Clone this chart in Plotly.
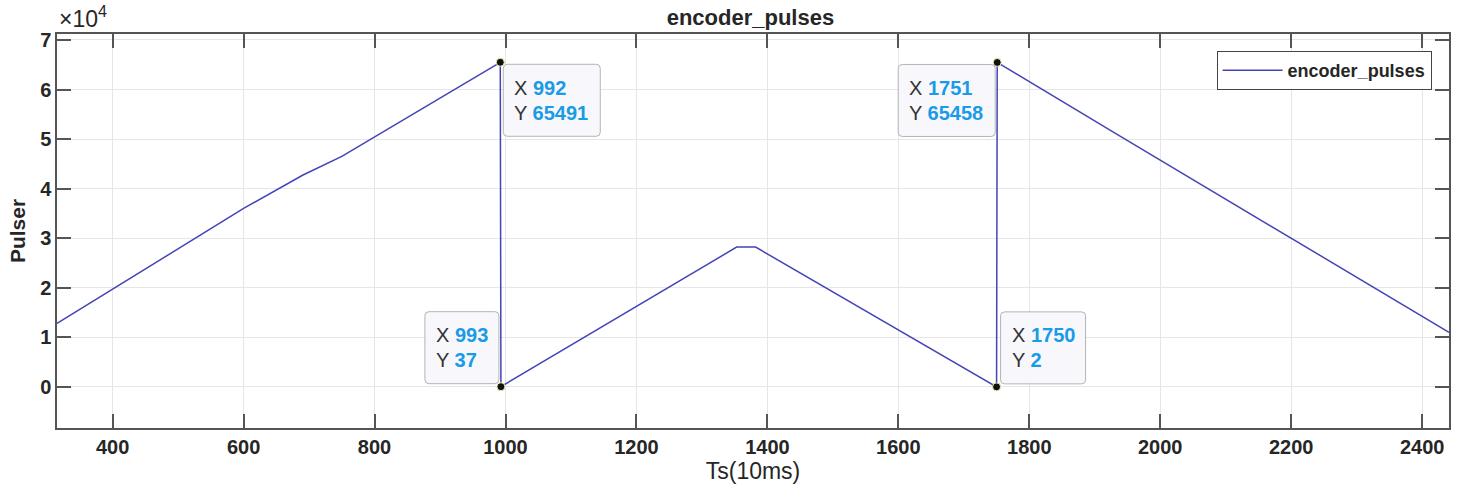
import plotly.graph_objects as go

# ---- data ----
ts = [315, 600, 690, 750, 992, 993, 1353, 1382, 1750, 1751, 1936, 2200, 2441]
pulses = [12800, 36000, 42700, 46500, 65491, 37, 28200, 28200, 2, 65458, 50800, 30000, 11000]

tip_x = [992, 993, 1750, 1751]
tip_y = [65491, 37, 2, 65458]

x_range = [315, 2441]
y_range = [-8300, 71200]
x_ticks = [400, 600, 800, 1000, 1200, 1400, 1600, 1800, 2000, 2200, 2400]
y_ticks = [0, 10000, 20000, 30000, 40000, 50000, 60000, 70000]
y_tick_text = ["0", "1", "2", "3", "4", "5", "6", "7"]

FONT = "Liberation Sans, Arial, Helvetica, sans-serif"
TXT = "#262626"
AX = "#555555"
LINE = "#4444b8"
BLUE = "#1a9be6"

fig = go.Figure()
fig.add_trace(go.Scatter(x=ts, y=pulses, mode="lines", name="<b>encoder_pulses</b>",
                         line=dict(color=LINE, width=1.5)))
fig.add_trace(go.Scatter(x=tip_x, y=tip_y, mode="markers", showlegend=False,
                         marker=dict(color="#111111", size=8,
                                     line=dict(color="#f0f0b0", width=1))))

# datatip boxes: (pixel offsets relative to the point) x0, x1, y0, y1 (y up positive)
box_geo = [(3, 100, -2, -74), (-76, -2, 3, 75), (4, 89, 3, 75), (-99, -2, -2, -74)]


def rrect(x0, x1, y0, y1, r=4):
    lx, rx = min(x0, x1), max(x0, x1)
    by, ty = min(y0, y1), max(y0, y1)
    return (f"M {lx + r},{by} L {rx - r},{by} Q {rx},{by} {rx},{by + r} "
            f"L {rx},{ty - r} Q {rx},{ty} {rx - r},{ty} L {lx + r},{ty} "
            f"Q {lx},{ty} {lx},{ty - r} L {lx},{by + r} Q {lx},{by} {lx + r},{by} Z")


for xv, yv, (x0, x1, y0, y1) in zip(tip_x, tip_y, box_geo):
    fig.add_shape(type="path", xsizemode="pixel", ysizemode="pixel",
                  xanchor=xv, yanchor=yv, xref="x", yref="y",
                  path=rrect(x0, x1, y0, y1),
                  fillcolor="rgba(248,248,252,0.96)",
                  line=dict(color="#b4b4b4", width=1), layer="above")
    cy = (y0 + y1) / 2
    lx = min(x0, x1)
    for label, val, dy in (("X", xv, 12.5), ("Y", yv, -12.5)):
        fig.add_annotation(x=xv, y=yv, xref="x", yref="y", showarrow=False,
                           xanchor="left", yanchor="middle",
                           xshift=lx + 9, yshift=cy + dy,
                           text=f"{label} <b><span style='color:{BLUE}'>{val}</span></b>",
                           font=dict(family=FONT, size=20, color="#333333"))

# exponent label
fig.add_annotation(x=0, y=1, xref="paper", yref="paper", xanchor="left", yanchor="bottom",
                   xshift=0, yshift=0, showarrow=False,
                   text="×10<sup>4</sup>", font=dict(family=FONT, size=23, color=TXT))

fig.update_layout(
    width=1460, height=489,
    margin=dict(l=57, r=9, t=34, b=61),
    paper_bgcolor="white", plot_bgcolor="white",
    font=dict(family=FONT, color=TXT),
    title=dict(text="<b>encoder_pulses</b>", x=0.514, xanchor="center", y=0.965, yanchor="middle",
               font=dict(family=FONT, size=22, color=TXT)),
    showlegend=True,
    legend=dict(x=0.9875, xanchor="right", y=0.957, yanchor="top",
                bgcolor="white", bordercolor="#444444", borderwidth=1, itemwidth=60,
                font=dict(family=FONT, size=18, color=TXT)),
    xaxis=dict(range=x_range, tickvals=x_ticks, ticks="inside", ticklen=14, tickwidth=1.5,
               tickcolor=AX, showline=True, linecolor=AX, linewidth=1.5, mirror="ticks",
               showgrid=True, gridcolor="#e6e6e6", gridwidth=1, zeroline=False,
               tickfont=dict(family=FONT, size=20, color=TXT, weight="bold"),
               title=dict(text="Ts(10ms)", font=dict(family=FONT, size=23, color=TXT), standoff=5)),
    yaxis=dict(range=y_range, tickvals=y_ticks, ticktext=y_tick_text, ticks="inside", ticklen=14,
               tickwidth=1.5, tickcolor=AX, showline=True, linecolor=AX, linewidth=1.5,
               mirror="ticks", showgrid=True, gridcolor="#e6e6e6", gridwidth=1, zeroline=False,
               tickfont=dict(family=FONT, size=20, color=TXT, weight="bold"),
               title=dict(text="<b>Pulser</b>", font=dict(family=FONT, size=21, color=TXT), standoff=9)),
)

fig.write_html("out.html")
